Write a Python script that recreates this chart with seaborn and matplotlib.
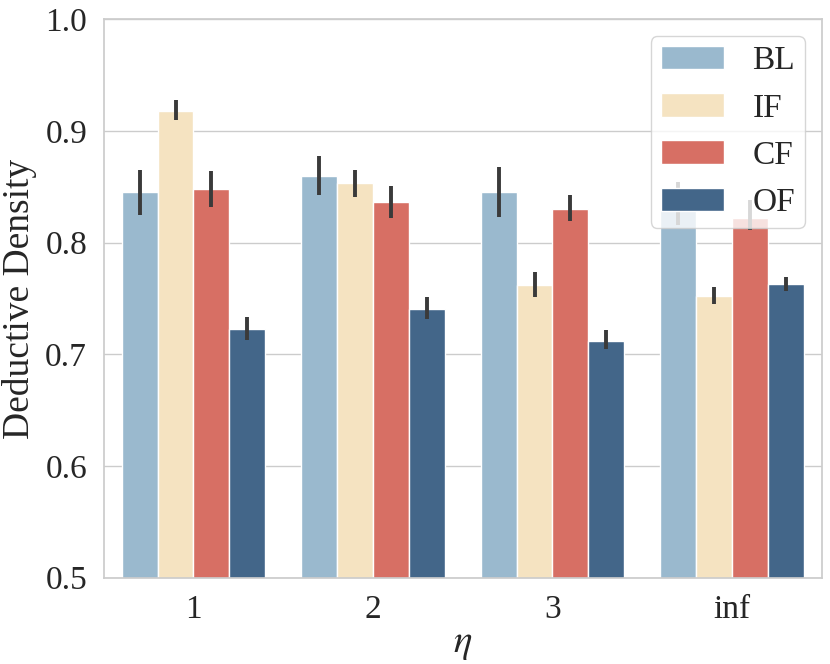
import numpy as np
import pandas as pd
import seaborn as sns
import matplotlib.pyplot as plt

# values
etas = ["1", "2", "3", "inf"]
methods = ["BL", "IF", "CF", "OF"]
means = {
    "BL": [0.845, 0.860, 0.845, 0.830],
    "IF": [0.918, 0.853, 0.762, 0.752],
    "CF": [0.848, 0.836, 0.830, 0.822],
    "OF": [0.723, 0.741, 0.712, 0.763],
}
err_lo = {
    "BL": [0.825, 0.843, 0.823, 0.816],
    "IF": [0.910, 0.841, 0.751, 0.745],
    "CF": [0.832, 0.822, 0.819, 0.811],
    "OF": [0.713, 0.732, 0.705, 0.757],
}
err_hi = {
    "BL": [0.865, 0.878, 0.868, 0.854],
    "IF": [0.928, 0.865, 0.774, 0.760],
    "CF": [0.864, 0.851, 0.843, 0.838],
    "OF": [0.733, 0.751, 0.722, 0.769],
}
colors = ["#9ab9ce", "#f5e3c1", "#d76f64", "#436689"]

rows = []
for m in methods:
    for i, e in enumerate(etas):
        rows.append({"eta": e, "method": m, "val": means[m][i],
                     "lo": err_lo[m][i], "hi": err_hi[m][i]})
df = pd.DataFrame(rows)

sns.set_theme(style="whitegrid")
plt.rcParams["font.family"] = ["Liberation Serif", "DejaVu Serif"]
plt.rcParams["mathtext.fontset"] = "stix"

fig, ax = plt.subplots(figsize=(8.3, 6.64), dpi=100)
sns.barplot(data=df, x="eta", y="val", hue="method", order=etas,
            hue_order=methods, palette=colors, saturation=1, errorbar=None,
            edgecolor="white", linewidth=1, ax=ax)

# error bars placed on the bar centres that seaborn laid out
for container, m in zip(ax.containers, methods):
    sub = df[df["method"] == m].set_index("eta").loc[etas]
    xs = [p.get_x() + p.get_width() / 2 for p in container.patches]
    ax.vlines(xs, sub["lo"], sub["hi"], color="#3a3a3a", linewidth=2.8, zorder=3)

# vlines re-triggers autoscaling, so restore the categorical limits
ax.set_xlim(-0.5, len(etas) - 0.5)
ax.set_ylim(0.5, 1.0)
ax.set_yticks([0.5, 0.6, 0.7, 0.8, 0.9, 1.0])
ax.tick_params(axis="both", labelsize=24, pad=6)
ax.set_ylabel("Deductive Density", fontsize=27, labelpad=6)
ax.set_xlabel(r"$\eta$", fontsize=28, labelpad=0)
ax.legend(loc="upper right", fontsize=24, handlelength=1.9,
          handletextpad=0.85, labelspacing=0.5, borderpad=0.3)

plt.subplots_adjust(left=0.125, right=0.99, top=0.971, bottom=0.13)
plt.savefig("out.png", dpi=100)
